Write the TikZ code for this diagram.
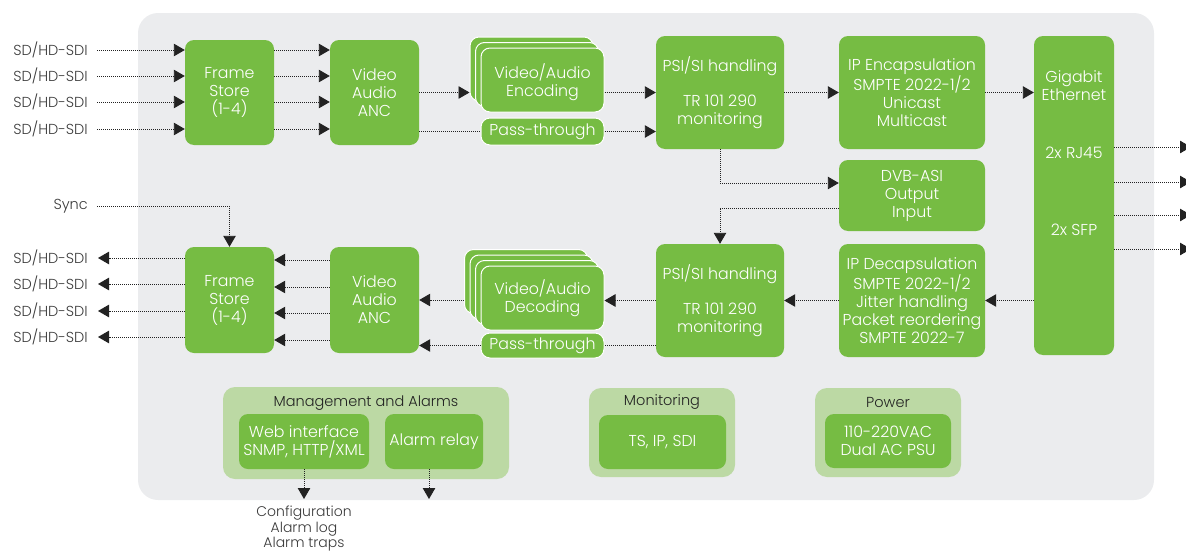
\documentclass[tikz,border=0pt]{standalone}
\usepackage{fontspec}
\IfFontExistsTF{Poppins Light}{\setmainfont{Poppins Light}}{\setmainfont{Poppins}}
\usetikzlibrary{arrows.meta}
\definecolor{bg}{HTML}{EBECEE}
\definecolor{grn}{HTML}{76BC43}
\definecolor{lgrn}{HTML}{BCD9A4}
\definecolor{dk}{HTML}{222222}
\definecolor{txt}{HTML}{3A3A3A}
\newcommand{\bxf}{\fontsize{15.8}{18}\selectfont}
\newcommand{\lbf}{\fontsize{14.5}{18}\selectfont}
\begin{document}
\begin{tikzpicture}[x=1pt,y=-1pt,
  gbox/.style={fill=grn, rounded corners=9pt, text=white, align=center, inner sep=0pt, font=\bxf},
  stk/.style={gbox, draw=white, line width=1pt},
  grp/.style={fill=lgrn, rounded corners=12pt, inner sep=0pt},
  gtitle/.style={text=dk, font=\lbf, inner sep=0pt},
  lbl/.style={text=txt, font=\lbf, inner sep=0pt, align=center},
  conn/.style={draw=dk, line width=0.9pt, dash pattern=on 1pt off 1pt},
  arr/.style={conn, -{Triangle[length=11pt,width=12.5pt]}},
  gtext/.style={text=white, font=\bxf, inner sep=0pt, align=center}]
\useasboundingbox (0,0) rectangle (1186,554);
\path[fill=bg, rounded corners=20pt] (138,13) rectangle (1154,500);

% ---------- top (encoder) path ----------
\node[gbox, minimum width=89pt, minimum height=105pt] (fsA) at (229.5,92.5) {Frame\\Store\\(1-4)};
\node[gbox, minimum width=89pt, minimum height=105pt] (ancA) at (374.5,92.5) {Video\\Audio\\ANC};
\node[stk, minimum width=123pt, minimum height=64pt] (encB1) at (531.5,69) {};
\node[stk, minimum width=123pt, minimum height=64pt] (encB2) at (537,74.5) {};
\node[stk, minimum width=123pt, minimum height=64pt] (encF) at (542.5,80) {};
\node[gtext] (encT) at (542.5,82.5) {Video/Audio\\Encoding};
\node[stk, minimum width=123pt, minimum height=27pt] (passA) at (542.5,131.5) {Pass-through};
\node[gbox, minimum width=128pt, minimum height=113pt] (psiA) at (720,92.5) {PSI/SI handling\\[17.5pt]TR 101 290\\monitoring};
\node[gbox, minimum width=146pt, minimum height=113pt] (ipenc) at (912,92.5) {IP Encapsulation\\SMPTE 2022-1/2\\Unicast\\Multicast};
\node[gbox, minimum width=80pt, minimum height=319pt] (gige) at (1074,195.5) {};
\node[gtext] (gigeT) at (1074,86) {Gigabit\\Ethernet};
\node[gtext] (rj) at (1074,153) {2x RJ45};
\node[gtext] (sfp) at (1074,230) {2x SFP};
\node[gbox, minimum width=146pt, minimum height=71pt] (dvb) at (912,195.5) {DVB-ASI\\Output\\Input};

% ---------- bottom (decoder) path ----------
\node[gbox, minimum width=128pt, minimum height=113pt] (psiB) at (720,300.5) {PSI/SI handling\\[17.5pt]TR 101 290\\monitoring};
\node[gbox, minimum width=146pt, minimum height=113pt] (ipdec) at (912,300.5) {IP Decapsulation\\SMPTE 2022-1/2\\Jitter handling\\Packet reordering\\SMPTE 2022-7};
\node[stk, minimum width=123pt, minimum height=64pt] (decB3) at (526,281.5) {};
\node[stk, minimum width=123pt, minimum height=64pt] (decB2) at (531.5,287) {};
\node[stk, minimum width=123pt, minimum height=64pt] (decB1) at (537,292.5) {};
\node[stk, minimum width=123pt, minimum height=64pt] (decF) at (542.5,298) {};
\node[gtext] (decT) at (542.5,298) {Video/Audio\\Decoding};
\node[stk, minimum width=123pt, minimum height=25pt] (passB) at (542.5,345.5) {Pass-through};
\node[gbox, minimum width=89pt, minimum height=106pt] (ancB) at (374.5,300) {Video\\Audio\\ANC};
\node[gbox, minimum width=89pt, minimum height=106pt] (fsB) at (229.5,300) {Frame\\Store\\(1-4)};

% ---------- side labels ----------
\foreach \i/\y in {1/50,2/76,3/102,4/129}{
  \node[lbl, anchor=east] (inA\i) at (88,\y) {SD/HD-SDI};
  \draw[arr, shorten <=9pt] (inA\i.east) -- (fsA.west |- inA\i.east);
  \draw[arr] (fsA.east |- inA\i.east) -- (ancA.west |- inA\i.east);
}
\foreach \i/\y in {1/258,2/284,3/311,4/337}{
  \node[lbl, anchor=east] (outB\i) at (88,\y) {SD/HD-SDI};
  \draw[arr, shorten >=10pt] (fsB.west |- outB\i.east) -- (outB\i.east);
}
\foreach \y in {260,287,313,340}{
  \draw[arr] (ancB.west |- 0,\y) -- (fsB.east |- 0,\y);
}
\node[lbl, anchor=east] (sync) at (88,206) {Sync};
\draw[arr, shorten <=9pt] (sync.east) -- (fsB.north |- sync.east) -- (fsB.north);

% ---------- connectors ----------
\draw[arr] (ancA.east |- psiA.west) -- (encB1.west |- psiA.west);
\draw[conn] (ancA.east |- passA.west) -- (passA.west);
\draw[arr] (encF.east |- psiA.west) -- (psiA.west);
\draw[arr] (passA.east) -- (psiA.west |- passA.east);
\draw[arr] (psiA.east) -- (ipenc.west);
\draw[arr] (ipenc.east) -- (gige.west |- ipenc.east);
\draw[arr] (psiA.south) |- ([yshift=12.5pt]dvb.west);
\draw[arr] ([yshift=-12.5pt]dvb.west) -| (psiB.north);
\draw[arr] (gige.west |- ipdec.east) -- (ipdec.east);
\draw[arr] (ipdec.west) -- (psiB.east);
\draw[arr] (psiB.west) -- (decF.east |- psiB.west);
\draw[conn] (psiB.west |- passB.east) -- (passB.east);
\draw[arr] (decB3.west |- ancB.east) -- (ancB.east);
\draw[arr] (passB.west) -- (ancB.east |- passB.west);
\foreach \i/\y in {1/147,2/182,3/215,4/249}{
  \coordinate (eth\i) at (1191,\y);
  \draw[arr] (gige.east |- eth\i) -- (eth\i);
}

% ---------- bottom groups ----------
\node[grp, minimum width=286pt, minimum height=92pt] (mgmt) at (366,433) {};
\node[gtitle] (mgmtT) at (366,403) {Management and Alarms};
\node[gbox, minimum width=130pt, minimum height=55pt] (web) at (304,441.5) {Web interface\\SNMP, HTTP/XML};
\node[gbox, minimum width=98pt, minimum height=55pt] (relay) at (434,441.5) {Alarm relay};
\node[grp, minimum width=146pt, minimum height=89pt] (mon) at (662,432.5) {};
\node[gtitle] (monT) at (662,402) {Monitoring};
\node[gbox, minimum width=127pt, minimum height=54pt] (monI) at (662.5,442) {TS, IP, SDI};
\node[grp, minimum width=146pt, minimum height=89pt] (pow) at (888,432.5) {};
\node[gtitle] (powT) at (888,402) {Power};
\node[gbox, minimum width=126pt, minimum height=54pt] (powI) at (888,441) {110-220VAC\\Dual AC PSU};

\coordinate (cfg) at (304,499);
\coordinate (rly) at (429,499);
\draw[arr] (web.south) -- (cfg);
\draw[arr] (relay.south -| rly) -- (rly);
\node[lbl, font=\fontsize{14}{16}\selectfont] (outT) at (304,528.5) {Configuration\\Alarm log\\Alarm traps};
\end{tikzpicture}
\end{document}
